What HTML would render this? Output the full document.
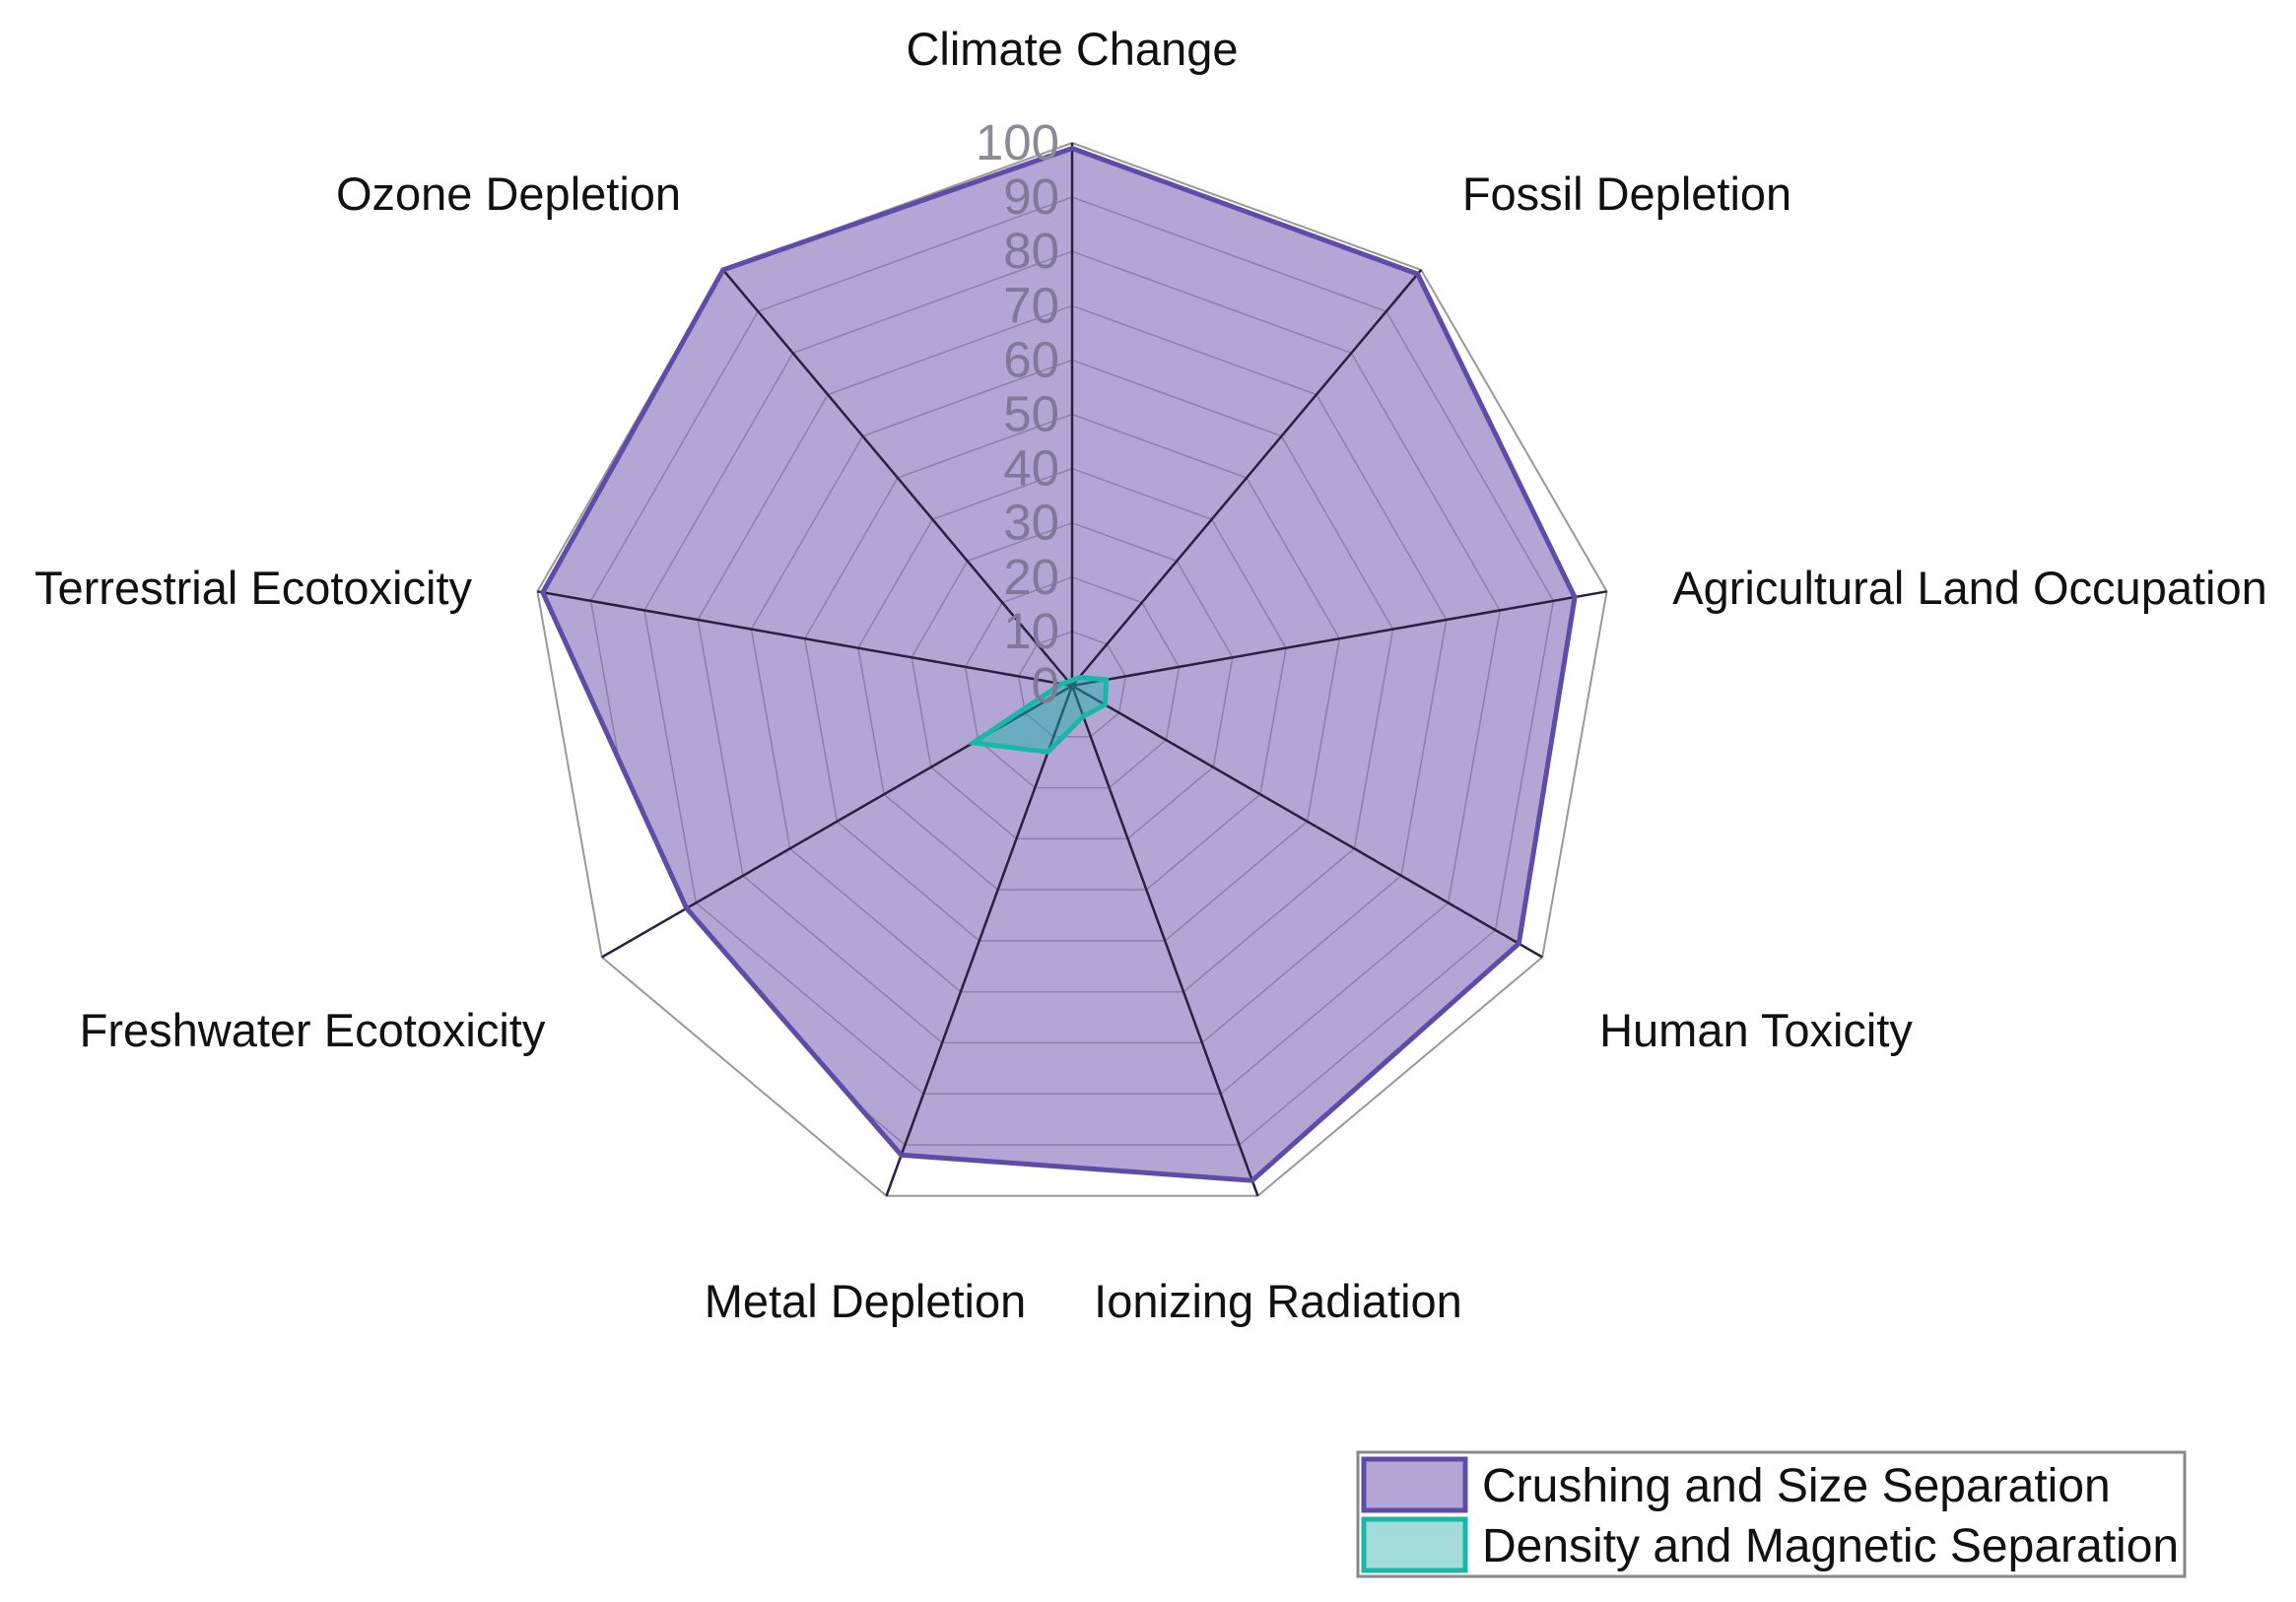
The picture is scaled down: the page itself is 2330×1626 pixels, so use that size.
<!DOCTYPE html>
<html><head><meta charset="utf-8"><style>
html,body{margin:0;padding:0;background:#fff;}
svg{display:block;}
text{font-family:"Liberation Sans",sans-serif;}
</style></head><body>
<svg id="s" width="2330" height="1626" viewBox="0 0 2330 1626" xmlns="http://www.w3.org/2000/svg"></svg>
<script>
const cx=1088,cy=696,R=551,N=9;
const s=document.getElementById('s');
function pt(i,v){const a=i*2*Math.PI/N;return [cx+Math.sin(a)*R*v/100,cy-Math.cos(a)*R*v/100];}
function poly(vals){return vals.map((v,i)=>pt(i,v).map(n=>n.toFixed(1)).join(',')).join(' ');}
let h='';
const full=Array(N).fill(100);
const A=[99,99,94,95,97,92,82,99,100];
h+=`<defs><clipPath id="cp"><polygon points="${poly(A)}"/></clipPath></defs>`;
h+=`<polygon points="${poly(full)}" fill="#fff" stroke="#999" stroke-width="2"/>`;
h+=`<polygon points="${poly(A)}" fill="#b3a6d4" stroke="none"/>`;
h+=`<g clip-path="url(#cp)">`;
for(let k=10;k<100;k+=10){h+=`<polygon points="${poly(Array(N).fill(k))}" fill="none" stroke="#8a80a8" stroke-width="1.5"/>`;}
h+=`</g>`;
for(let i=0;i<N;i++){const p=pt(i,100);h+=`<line x1="${cx}" y1="${cy}" x2="${p[0]}" y2="${p[1]}" stroke="#2a2040" stroke-width="2.5"/>`;}
h+=`<polygon points="${poly(A)}" fill="none" stroke="#5f4ba8" stroke-width="5"/>`;
const B=[1,2,6.4,7,6,13,21,2,1];
h+=`<polygon points="${poly(B)}" fill="rgba(20,180,170,0.45)" stroke="#18b8a8" stroke-width="5"/>`;
for(let k=0;k<=100;k+=10){const y=cy-R*k/100;h+=`<text x="1075" y="${y+17}" font-size="51" fill="${k==100?'#8c8a94':'#7f7898'}" text-anchor="end">${k}</text>`;}
const L=[["Climate Change",1088,49],["Fossil Depletion",1651,196],["Agricultural Land Occupation",1999,596],["Human Toxicity",1782,1045],["Ionizing Radiation",1297,1320],["Metal Depletion",878,1320],["Freshwater Ecotoxicity",317,1045],["Terrestrial Ecotoxicity",257,596],["Ozone Depletion",516,196]];
L.forEach(l=>{h+=`<text x="${l[1]}" y="${l[2]+17}" font-size="47" fill="#111" text-anchor="middle">${l[0]}</text>`;});
h+=`<rect x="1378" y="1474" width="839" height="126" fill="#fff" stroke="#888" stroke-width="3"/>`;
h+=`<rect x="1384" y="1481" width="103" height="52" fill="#b3a6d4" stroke="#5f4ba8" stroke-width="5"/>`;
h+=`<rect x="1384" y="1542" width="103" height="52" fill="#a3dcd8" stroke="#18b8a8" stroke-width="5"/>`;
h+=`<text x="1504" y="1524" font-size="48" fill="#111">Crushing and Size Separation</text>`;
h+=`<text x="1504" y="1585" font-size="48" fill="#111">Density and Magnetic Separation</text>`;
s.innerHTML=h;
</script>
</body></html>
